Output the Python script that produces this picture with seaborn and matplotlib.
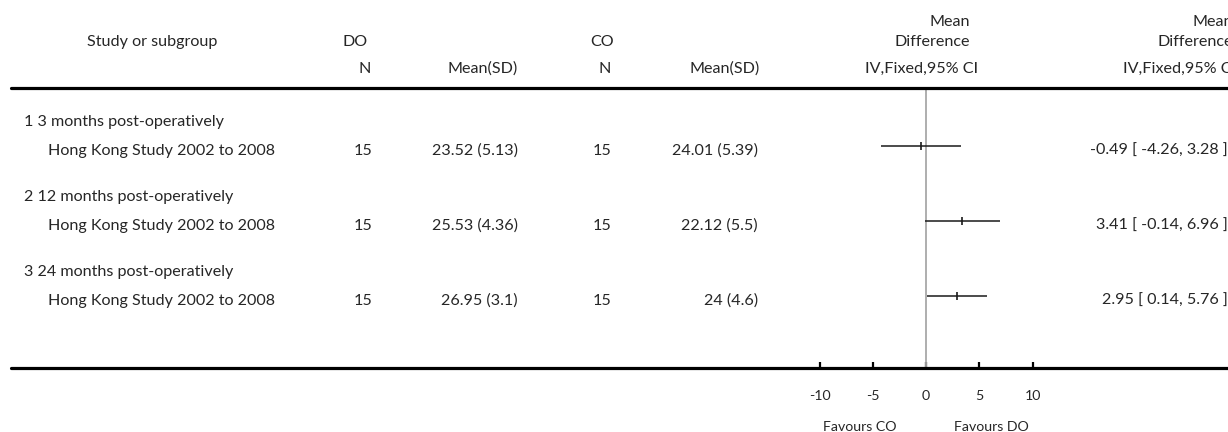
import matplotlib
matplotlib.use("Agg")
import matplotlib.pyplot as plt
from matplotlib.lines import Line2D
import seaborn as sns
import pandas as pd

# ---- data -------------------------------------------------------------
subgroups = ["1 3 months post-operatively",
             "2 12 months post-operatively",
             "3 24 months post-operatively"]
study = "Hong Kong Study 2002 to 2008"
do_n = [15, 15, 15]
do_mean_sd = ["23.52 (5.13)", "25.53 (4.36)", "26.95 (3.1)"]
co_n = [15, 15, 15]
co_mean_sd = ["24.01 (5.39)", "22.12 (5.5)", "24 (4.6)"]
md = [-0.49, 3.41, 2.95]
ci_low = [-4.26, -0.14, 0.14]
ci_high = [3.28, 6.96, 5.76]
axis_ticks = [-10, -5, 0, 5, 10]

df = pd.DataFrame({"row": range(len(md)), "md": md, "lo": ci_low, "hi": ci_high})

# ---- figure -----------------------------------------------------------
sns.set_theme(style="white")
plt.rcParams["font.family"] = ["Lato", "DejaVu Sans"]
W, H = 1228, 432
fig = plt.figure(figsize=(W / 100, H / 100), dpi=100)
TXT = "#262626"
FS = 11.6


def fx(x):
    return x / W


def fy(y):
    return 1 - y / H


def put(x, y, s, ha="left", size=FS):
    fig.text(fx(x), fy(y), s, ha=ha, va="center", fontsize=size, color=TXT)


# header
put(152, 42, "Study or subgroup", ha="center")
put(368, 42, "DO", ha="right")
put(614, 42, "CO", ha="right")
put(970, 22, "Mean", ha="right")
put(970, 42, "Difference", ha="right")
put(1233, 22, "Mean", ha="right")
put(1233, 42, "Difference", ha="right")
put(371, 69, "N", ha="right")
put(518, 69, "Mean(SD)", ha="right")
put(611, 69, "N", ha="right")
put(760, 69, "Mean(SD)", ha="right")
put(978, 69, "IV,Fixed,95% CI", ha="right")
put(1236, 69, "IV,Fixed,95% CI", ha="right")

# table rules
for yy in (88, 368):
    fig.add_artist(Line2D([fx(11), fx(1240)], [fy(yy), fy(yy)],
                          color="black", lw=2.3, transform=fig.transFigure))

# rows
pitch = 75
for i, name in enumerate(subgroups):
    g_y = 122 + i * pitch
    s_y = 151 + i * pitch
    put(24, g_y, name)
    put(48, s_y, study)
    put(372, s_y, str(do_n[i]), ha="right")
    put(518, s_y, do_mean_sd[i], ha="right")
    put(611, s_y, str(co_n[i]), ha="right")
    put(758, s_y, co_mean_sd[i], ha="right")
    put(1228, s_y, f"{md[i]:.2f} [ {ci_low[i]:.2f}, {ci_high[i]:.2f} ]", ha="right")

# forest panel: 0 at x=926 px, 10.65 px per unit
ax_l, ax_r, ax_t, ax_b = 780, 1080, 88, 368
scale = 10.65
zero_px = 926
ax = fig.add_axes([fx(ax_l), fy(ax_b), fx(ax_r - ax_l), (ax_b - ax_t) / H])
ax.set_xlim((ax_l - zero_px) / scale, (ax_r - zero_px) / scale)
row_top = 145.5 - ax_t
ax.set_ylim((ax_b - ax_t - row_top) / pitch, -row_top / pitch)
ax.patch.set_alpha(0)
for sp in ax.spines.values():
    sp.set_visible(False)

ax.axvline(0, color="#a8a8a8", lw=1.3, zorder=1)
ax.hlines(df["row"], df["lo"], df["hi"], color="#1a1a1a", lw=1.1, zorder=2)
sns.scatterplot(data=df, x="md", y="row", marker="|", s=40, color="#1a1a1a",
                linewidth=1.2, ax=ax, zorder=3, legend=False)
ax.set_xlabel("")
ax.set_ylabel("")
ax.set_yticks([])
ax.set_xticks(axis_ticks)
ax.set_xticklabels([str(t) for t in axis_ticks])
ax.tick_params(axis="x", direction="in", length=4.5, width=1.6, color="black",
               pad=16, labelsize=10.2, labelcolor=TXT, bottom=True)

put(860, 427, "Favours CO", ha="center", size=10.2)
put(991, 427, "Favours DO", ha="center", size=10.2)

fig.savefig("out.png", dpi=100, facecolor="white")
